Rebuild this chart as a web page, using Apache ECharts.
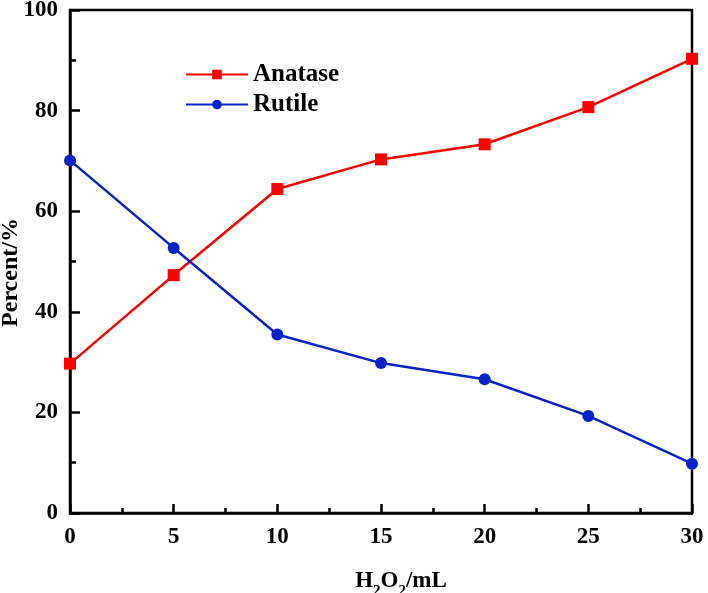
<!DOCTYPE html>
<html><head><meta charset="utf-8">
<script src="https://cdn.jsdelivr.net/npm/echarts@6/dist/echarts.min.js"></script>
<style>html,body{margin:0;padding:0;background:#fff}#c{width:708px;height:593px}</style>
</head><body><div id="c"></div>
<script>
var xValues = [0, 5, 10, 15, 20, 25, 30];
var anatase = [29.7, 47.3, 64.4, 70.3, 73.3, 80.7, 90.3];
var rutile = [70.1, 52.7, 35.5, 29.8, 26.6, 19.3, 9.8];
var seriesNames = ['Anatase', 'Rutile'];

var font = 'Liberation Serif';
var chart = echarts.init(document.getElementById('c'));
function pairs(v){ return xValues.map(function(x,i){ return [x, v[i]]; }); }
chart.setOption({
  animation: false,
  backgroundColor: '#fff',
  grid: { left: 70, right: 16, top: 10, bottom: 80, outerBoundsMode: 'none', containLabel: false,
    show: true, borderColor: '#000', borderWidth: 2.5, backgroundColor: 'transparent' },
  legend: {
    left: 180, top: 57, orient: 'vertical', itemGap: 5, itemWidth: 62, itemHeight: 12,
    data: seriesNames,
    textStyle: { fontFamily: font, fontWeight: 'bold', fontSize: 25, color: '#000' }
  },
  xAxis: {
    type: 'value', min: 0, max: 30, interval: 5,
    name: '{a|H}{s|2}{a|O}{s|2}{a|/mL}', nameLocation: 'middle', nameGap: 54, nameMoveOverlap: false,
    nameTextStyle: { padding: [0, 0, 0, 40], rich: {
      a: { fontFamily: font, fontWeight: 'bold', fontSize: 23, color: '#000', verticalAlign: 'bottom', lineHeight: 26 },
      s: { fontFamily: font, fontWeight: 'bold', fontSize: 15, color: '#000', verticalAlign: 'bottom', lineHeight: 26, padding: [0,0,-6,0] }
    } },
    axisLine: { show: true, lineStyle: { color: '#000', width: 2.5 } },
    axisTick: { show: true, inside: true, length: 9, lineStyle: { color: '#000', width: 2.5 } },
    minorTick: { show: true, splitNumber: 2, length: 5, lineStyle: { color: '#000', width: 2.5 } },
    splitLine: { show: false },
    axisLabel: { fontFamily: font, fontWeight: 'bold', fontSize: 23, color: '#000', margin: 13 }
  },
  yAxis: {
    type: 'value', min: 0, max: 100, interval: 20,
    name: 'Percent/%', nameLocation: 'middle', nameGap: 47, nameRotate: 90, nameMoveOverlap: false,
    nameTextStyle: { fontFamily: font, fontWeight: 'bold', fontSize: 24, color: '#000', padding: [0, 22, 0, 0] },
    axisLine: { show: true, lineStyle: { color: '#000', width: 2.5 } },
    axisTick: { show: true, inside: true, length: 10, lineStyle: { color: '#000', width: 2.5 } },
    minorTick: { show: true, splitNumber: 2, length: 6, lineStyle: { color: '#000', width: 2.5 } },
    splitLine: { show: false },
    axisLabel: { fontFamily: font, fontWeight: 'bold', fontSize: 23, color: '#000', margin: 12 }
  },
  series: [
    { name: seriesNames[0], type: 'line', data: pairs(anatase), symbol: 'rect', symbolSize: 12,
      itemStyle: { color: '#ff0000' }, lineStyle: { color: '#ff0000', width: 2.5 } },
    { name: seriesNames[1], type: 'line', data: pairs(rutile), symbol: 'circle', symbolSize: 12,
      itemStyle: { color: '#0a23c8' }, lineStyle: { color: '#0a23c8', width: 2.5 } }
  ]
});
</script></body></html>
